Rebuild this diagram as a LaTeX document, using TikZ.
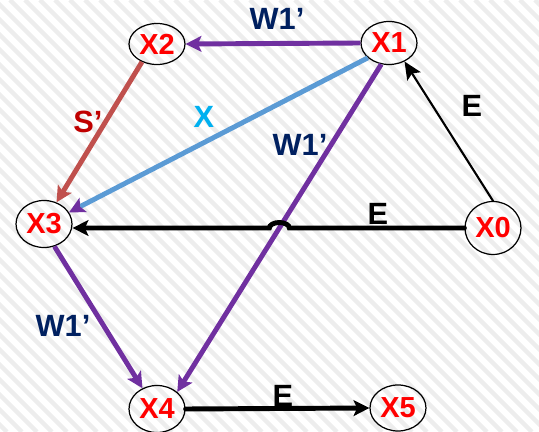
\documentclass[tikz,border=0pt]{standalone}
\usepackage{fontspec}
\setmainfont{Liberation Sans}
\usepackage{xcolor}
\usetikzlibrary{arrows.meta, shapes.geometric, calc}

\definecolor{pptpurple}{RGB}{112,48,160}
\definecolor{pptbrown}{RGB}{192,80,77}
\definecolor{pptblue}{RGB}{91,155,213}
\definecolor{pptnavy}{RGB}{0,32,96}
\definecolor{pptdarkred}{RGB}{192,0,0}
\definecolor{pptcyan}{RGB}{0,176,240}

\begin{document}
\begin{tikzpicture}[
    x=0.02cm, y=-0.02cm,
    state/.style={ellipse, draw, line width=0.7pt, minimum width=1.12cm, minimum height=#1, inner sep=0pt, text=red, font=\fontsize{16.5}{19}\selectfont\bfseries},
    arr/.style={-{Stealth[length=9pt, width=9pt, inset=2pt]}, line width=2.8pt, draw=#1},
    thinarr/.style={-{Stealth[length=10pt, width=9pt, inset=2pt]}, line width=1.2pt, line cap=round},
    elabel/.style={font=\fontsize{17.5}{20}\selectfont\bfseries, text=#1},
    stripe/.style={line width=2.5pt, black!7},
]

\useasboundingbox (0,0) rectangle (539,432);

% background stripes
\begin{scope}
\clip (0,0) rectangle (539,432);
\foreach \k in {-440,-425,...,545} {
    \draw[stripe] (\k,0) -- ++(432,432);
}
\end{scope}

% states
\node[state=0.82cm] (X2) at (157,44) {X2};
\node[state=0.86cm] (X1) at (389,43) {X1};
\node[state=0.94cm] (X3) at (44,224) {X3};
\node[state=1.06cm] (X0) at (493,228) {X0};
\node[state=0.94cm] (X4) at (157,409) {X4};
\node[state=0.92cm] (X5) at (398,408) {X5};

% transitions
\draw[arr=pptpurple] (X1.west) -- (X2.east);
\draw[arr=pptbrown] (X2.-130) -- (X3.60);
\draw[line width=2.8pt, pptblue, -{Stealth[length=9pt, width=9pt, inset=2pt, color=pptpurple]}] (X1.-145) -- (X3.25);
\coordinate (w1s) at (X1.-110);
\coordinate (w1e) at (X4.north east);
\draw[arr=pptpurple] (w1s) -- (w1e);
\draw[arr=pptpurple] (X3.-65) -- (X4.125);
\draw[thinarr] (X0.north) -- (X1.-50);

% E from X0 to X3, hopping over W1'
\coordinate (e0s) at (X0.west);
\coordinate (e0e) at (X3.east |- X0.west);
\coordinate (hop) at (intersection of w1s--w1e and e0s--e0e);
\draw[arr=black, line cap=round] (e0s) -- ([xshift=0.2cm]hop)
    arc[start angle=0, end angle=180, x radius=0.2cm, y radius=0.11cm] -- (e0e);
\draw[arr=black, line cap=round] (X4.east) -- (X5.west);

% labels
\node[elabel=pptnavy] (lw1a) at (277,19) {W1’};
\node[elabel=pptdarkred] (ls) at (88,122) {S’};
\node[elabel=pptcyan] (lx) at (204,117) {X};
\node[elabel=pptnavy] (lw1b) at (300,145) {W1’};
\node[elabel=black] (le1) at (472,106) {E};
\node[elabel=pptnavy] (lw1c) at (63,326) {W1’};
\node[elabel=black] (le2) at (378,214) {E};
\node[elabel=black] (le3) at (283,396) {E};

\end{tikzpicture}
\end{document}
